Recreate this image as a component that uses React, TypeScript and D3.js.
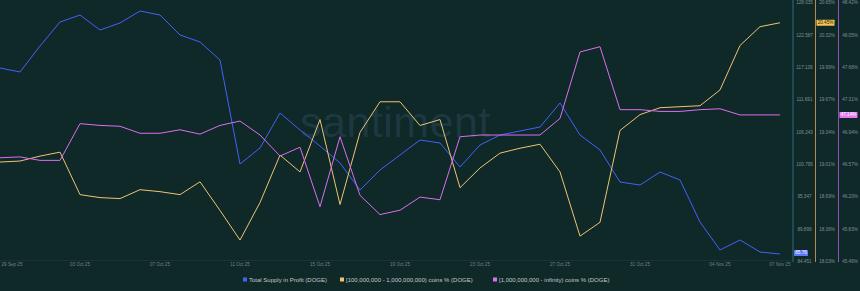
import React from 'react';
import * as d3 from 'd3';

const startDate = new Date(2025, 8, 29);

const supplyInProfit = [
  117.09, 116.42, 120.79, 124.84, 126.01, 123.49, 124.67, 126.69, 126.01, 122.65,
  121.47, 118.44, 100.92, 103.62, 109.51, 106.65, 103.95, 101.09, 96.54, 99.91,
  102.44, 104.96, 104.46, 100.42, 104.12, 105.81, 106.48, 107.15, 111.19, 105.81,
  103.28, 97.89, 97.38, 99.57, 98.23, 91.15, 86.44, 88.12, 86.1, 85.76,
];

const midHolders = [
  19.04, 19.05, 19.1, 19.14, 18.71, 18.68, 18.67, 18.76, 18.74, 18.71,
  18.84, 18.55, 18.25, 18.63, 19.11, 18.94, 19.47, 18.61, 19.34, 19.65,
  19.65, 19.41, 19.47, 18.78, 18.98, 19.13, 19.18, 19.22, 18.94, 18.29,
  18.43, 19.36, 19.52, 19.59, 19.6, 19.61, 19.77, 20.22, 20.41, 20.45,
];

const whales = [
  46.65, 46.66, 46.62, 46.62, 47.04, 47.02, 47.01, 46.93, 46.93, 46.97,
  46.92, 47.02, 47.07, 46.91, 46.67, 46.77, 46.09, 46.89, 46.22, 46.0,
  46.05, 46.2, 46.17, 46.89, 46.91, 46.91, 46.91, 46.91, 47.1, 47.86,
  47.92, 47.2, 47.2, 47.18, 47.18, 47.2, 47.21, 47.14, 47.14, 47.14,
];

const xTickDates = [
  '2025-09-29', '2025-10-03', '2025-10-07', '2025-10-11', '2025-10-15', '2025-10-19',
  '2025-10-23', '2025-10-27', '2025-10-31', '2025-11-04', '2025-11-07',
];
const xTickLabels = [
  '29 Sep 25', '03 Oct 25', '07 Oct 25', '11 Oct 25', '15 Oct 25', '19 Oct 25',
  '23 Oct 25', '27 Oct 25', '31 Oct 25', '04 Nov 25', '07 Nov 25',
];

const supplyTicks = [128.035, 122.587, 117.139, 111.691, 106.243, 100.795, 95.347, 89.899, 84.451];
const midTicks = [20.65, 20.32, 19.99, 19.67, 19.34, 19.01, 18.69, 18.36, 18.03];
const whaleTicks = [48.42, 48.05, 47.68, 47.31, 46.94, 46.57, 46.2, 45.83, 45.46];

const seriesNames = [
  'Total Supply in Profit (DOGE)',
  '[100,000,000 - 1,000,000,000) coins % (DOGE)',
  '[1,000,000,000 - infinity) coins % (DOGE)',
];

const BG = '#0f2828';
const BLUE = '#4262fb';
const ORANGE = '#efc471';
const PURPLE = '#dc6ef0';
const FONT = "'Liberation Sans', Arial, sans-serif";

function parseDay(s: string) {
  const [y, m, d] = s.split('-').map(Number);
  return new Date(y, m - 1, d);
}

export default function App() {
  const W = 860;
  const H = 291;
  const plotRight = 793;
  const yTop = 3;
  const yBottom = 3 + 8 * 32.35;

  const dates = supplyInProfit.map((_, i) => d3.timeDay.offset(startDate, i));
  const x = d3.scaleTime().domain([dates[0], dates[dates.length - 1]]).range([0, 780]);

  const yBlue = d3.scaleLinear().domain([supplyTicks[8], supplyTicks[0]]).range([yBottom, yTop]);
  const yOrange = d3.scaleLinear().domain([midTicks[8], midTicks[0]]).range([yBottom, yTop]);
  const yPurple = d3.scaleLinear().domain([whaleTicks[8], whaleTicks[0]]).range([yBottom, yTop]);

  const mk = (ys: d3.ScaleLinear<number, number>, vals: number[]) =>
    d3.line<number>().x((_, i) => x(dates[i])).y((v) => ys(v))(vals) || '';

  const axes = [
    { x0: plotRight, color: '#2f6f7e', ticks: supplyTicks, fmt: (v: number) => v.toFixed(3) },
    { x0: 815.5, color: '#b98a4c', ticks: midTicks, fmt: (v: number) => v.toFixed(2) + '%' },
    { x0: 838.5, color: '#8e52b4', ticks: whaleTicks, fmt: (v: number) => v.toFixed(2) + '%' },
  ];

  const lastB = supplyInProfit[supplyInProfit.length - 1];
  const lastO = midHolders[midHolders.length - 1];
  const lastP = whales[whales.length - 1];

  const legendItems = [
    { x: 243, color: BLUE, label: seriesNames[0] },
    { x: 340, color: ORANGE, label: seriesNames[1] },
    { x: 493, color: PURPLE, label: seriesNames[2] },
  ];

  return (
    <svg width={W} height={H} style={{ position: 'absolute', left: 0, top: 0, background: BG }} fontFamily={FONT}>
      <rect x={0} y={0} width={W} height={H} fill={BG} />
      <text x={300} y={137} fontSize={43} fill="#1c3840" fontFamily={FONT} letterSpacing={0.5}>santiment</text>
      <line x1={0} x2={plotRight} y1={260.5} y2={260.5} stroke="#173333" strokeWidth={1} />

      <g clipPath="url(#plotclip)">
        <path d={mk(yBlue, supplyInProfit)} fill="none" stroke={BLUE} strokeWidth={1} />
        <path d={mk(yOrange, midHolders)} fill="none" stroke={ORANGE} strokeWidth={1} />
        <path d={mk(yPurple, whales)} fill="none" stroke={PURPLE} strokeWidth={1} />
      </g>
      <defs>
        <clipPath id="plotclip">
          <rect x={0} y={0} width={plotRight} height={270} />
        </clipPath>
      </defs>

      {axes.map((a, ai) => (
        <g key={ai}>
          <line x1={a.x0} x2={a.x0} y1={0} y2={262} stroke={a.color} strokeWidth={1} />
          {a.ticks.map((t, ti) => (
            <text
              key={ti}
              x={a.x0 + 11.5}
              y={yBlue(supplyTicks[ti])}
              fontSize={4.6}
              fill="#7f9294"
              textAnchor="middle"
              dominantBaseline="middle"
            >
              {a.fmt(t)}
            </text>
          ))}
        </g>
      ))}

      <g>
        <rect x={816.5} y={yOrange(lastO) - 3} width={18} height={6} fill="#f2c453" rx={0.5} />
        <text x={825.5} y={yOrange(lastO) + 0.2} fontSize={4.6} fill="#2a2410" textAnchor="middle" dominantBaseline="middle">
          {lastO.toFixed(2)}%
        </text>
        <rect x={839.5} y={yPurple(lastP) - 3} width={18} height={6} fill="#e57bf2" rx={0.5} />
        <text x={848.5} y={yPurple(lastP) + 0.2} fontSize={4.6} fill="#ffffff" textAnchor="middle" dominantBaseline="middle">
          {lastP.toFixed(2)}%
        </text>
        <rect x={794} y={yBlue(lastB) - 4} width={14} height={6} fill="#5b78f5" rx={0.5} />
        <text x={801} y={yBlue(lastB) - 0.8} fontSize={4.6} fill="#ffffff" textAnchor="middle" dominantBaseline="middle">
          {lastB.toFixed(2)}
        </text>
      </g>

      {xTickDates.map((d, i) => {
        const px = Math.min(791, Math.max(12, x(parseDay(d))));
        return (
          <text key={i} x={px} y={264.5} fontSize={4.6} fill="#6f8385" textAnchor="middle" dominantBaseline="middle">
            {xTickLabels[i]}
          </text>
        );
      })}

      {legendItems.map((it, i) => (
        <g key={i}>
          <rect x={it.x} y={277.5} width={4} height={4} fill={it.color} />
          <text x={it.x + 6} y={280} fontSize={6} fill="#c3cacc" dominantBaseline="middle">
            {it.label}
          </text>
        </g>
      ))}
    </svg>
  );
}
